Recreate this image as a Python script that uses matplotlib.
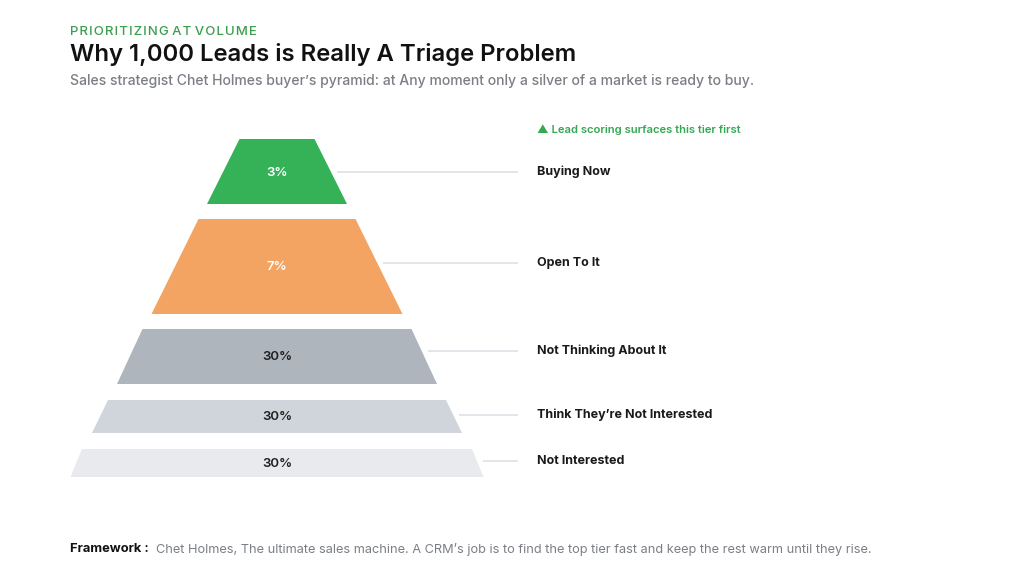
import matplotlib.pyplot as plt
from matplotlib.patches import Polygon

plt.rcParams['font.family'] = ['Inter', 'DejaVu Sans']

# data
tiers = ["Buying Now", "Open To It", "Not Thinking About It",
         "Think They\u2019re Not Interested", "Not Interested"]
shares = [3, 7, 30, 30, 30]
share_labels = ["3%", "7%", "30%", "30%", "30%"]

# layout (pixel units, y grows downward)
tier_top = [139, 219, 329, 400, 449]
tier_bot = [204, 314, 384, 433, 477]
top_w = [75, 157, 269, 338, 390]
bot_w = [140, 251, 320, 370, 413]
label_y = [172, 263, 351, 415, 461]
cx = 277
colors = ["#35b158", "#f3a463", "#aeb5bd", "#d0d5dc", "#e8eaed"]
text_colors = ["white", "white", "#1f1f1f", "#1f1f1f", "#1f1f1f"]

fig = plt.figure(figsize=(10.24, 5.83), dpi=100)
ax = fig.add_axes([0, 0, 1, 1])
ax.set_xlim(0, 1024)
ax.set_ylim(583, 0)
ax.axis("off")

for i, name in enumerate(tiers):
    t, b = tier_top[i], tier_bot[i]
    poly = Polygon([(cx - top_w[i] / 2, t), (cx + top_w[i] / 2, t),
                    (cx + bot_w[i] / 2, b), (cx - bot_w[i] / 2, b)],
                   closed=True, facecolor=colors[i], edgecolor="none")
    ax.add_patch(poly)
    ax.text(cx, (t + b) / 2 + 1, share_labels[i], ha="center", va="center",
            fontsize=9.5, fontweight="semibold", color=text_colors[i])
    # connector from right edge to the label
    y = label_y[i]
    frac = (y - t) / (b - t)
    half = top_w[i] / 2 + frac * (bot_w[i] - top_w[i]) / 2
    ax.plot([cx + half + 6, 518], [y, y], color="#dde1e6", lw=1.2,
            solid_capstyle="butt")
    ax.text(537, y, name, ha="left", va="center", fontsize=9,
            fontweight="bold", color="#1a1a1a")

ax.text(537, 130, "\u25b2 Lead scoring surfaces this tier first", ha="left",
        va="center", fontsize=8.1, fontweight="semibold", color="#34a853")

# header
ax.text(70, 32, "P R I O R I T I Z I N G   A T   V O L U M E".replace(" ", "\u200a"),
        ha="left", va="center", fontsize=9.5, fontweight="medium",
        color="#3c9d4e")
ax.text(70, 55, "Why 1,000 Leads is Really A Triage Problem", ha="left",
        va="center", fontsize=17.2, fontweight="semibold", color="#111111")
ax.text(70, 81, "Sales strategist Chet Holmes buyer\u2019s pyramid: at Any moment "
        "only a silver of a market is ready to buy.", ha="left", va="center",
        fontsize=10.1, fontweight="medium", color="#7b7f85")

# footer
lab = ax.text(70, 549, "Framework :", ha="left", va="center", fontsize=9.3,
              fontweight="bold", color="#111111")
ax.annotate("Chet Holmes, The ultimate sales machine. A CRM\u2019s job is to find "
            "the top tier fast and keep the rest warm until they rise.",
            xy=(1, 0.5), xycoords=lab, xytext=(5, 0), textcoords="offset points",
            ha="left", va="center", fontsize=9.2, color="#7b7f85")

fig.savefig("out.png", dpi=100)
